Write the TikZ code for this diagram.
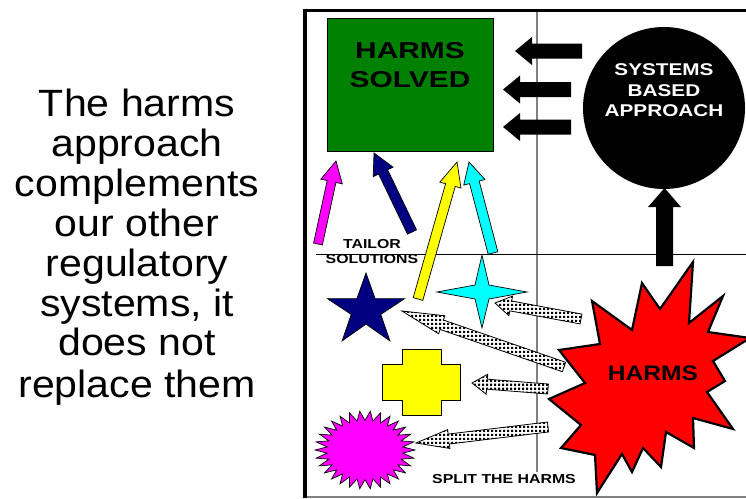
\documentclass[tikz,border=0pt]{standalone}
\usepackage{fontspec}
\setmainfont{Liberation Sans}
\newfontfamily\leftfont[FakeStretch=1.08]{Liberation Sans}
\newfontfamily\boldA[FakeStretch=1.3]{Liberation Sans}
\newfontfamily\boldB[FakeStretch=1.22]{Liberation Sans}
\newfontfamily\boldC[FakeStretch=1.17]{Liberation Sans}
\usetikzlibrary{calc,patterns.meta}
\definecolor{hgreen}{RGB}{0,128,0}
\definecolor{hnavy}{RGB}{0,0,128}
\definecolor{hmag}{RGB}{255,0,255}
\definecolor{hcyan}{RGB}{0,255,255}
\definecolor{hyellow}{RGB}{255,255,0}
\definecolor{hred}{RGB}{255,0,0}
\definecolor{hgray}{RGB}{128,128,128}
\tikzdeclarepattern{name=chk, type=uncolored,
  bottom left={(0pt,0pt)}, top right={(4.2pt,4.2pt)}, tile size={(4.2pt,4.2pt)},
  code={\pgfpathrectangle{\pgfpointorigin}{\pgfpoint{2.6pt}{2.6pt}}\pgfusepath{fill}}}
% block arrow: #1 tail, #2 tip, #3 shaft half width, #4 head half width, #5 head length, #6 style
\newcommand\blockarr[6]{%
  \coordinate (hb) at ($(#2)!#5!(#1)$);
  \draw[#6] ($(#1)!#3!90:(#2)$) -- ($(hb)!#3!90:(#2)$) -- ($(hb)!#4!90:(#2)$)
    -- (#2) -- ($(hb)!#4!-90:(#2)$) -- ($(hb)!#3!-90:(#2)$) -- ($(#1)!#3!-90:(#2)$) -- cycle;}
\tikzset{
  blackarr/.style={fill=black, draw=none},
  colarr/.style={draw=black, line width=0.7pt, fill=#1, line join=miter},
  patarr/.style={draw=black, line width=0.8pt, preaction={fill=white}, pattern=chk, pattern color=black},
  lefttext/.style={anchor=base, font=\leftfont\fontsize{38}{40}\selectfont, inner sep=0},
  shapeline/.style={draw=black, line width=0.7pt},
}
\begin{document}
\begin{tikzpicture}[x=1pt,y=-1pt]
\useasboundingbox (0,0) rectangle (746,498);
\clip (0,0) rectangle (746,498);
\fill[white] (0,0) rectangle (746,498);

% left text
\node[lefttext] (l1) at (137,116) {The harms};
\node[lefttext] (l2) at (137,156) {approach};
\node[lefttext] (l3) at (137,196) {complements};
\node[lefttext] (l4) at (137,236) {our other};
\node[lefttext] (l5) at (137,276) {regulatory};
\node[lefttext] (l6) at (137,316) {systems, it};
\node[lefttext] (l7) at (137,355) {does not};
\node[lefttext] (l8) at (137,397) {replace them};

% frame and dividers
\draw[hgray, line width=1.5pt] (537,10) -- (537,472);
\draw[black, line width=1pt] (316,254) -- (746,254);
\draw[hgray, line width=2pt] (303,497) -- (746,497);
\draw[black, line width=3pt] (303,10) -- (746,10);
\draw[black, line width=4pt] (305,8.5) -- (305,498);

% harms solved box
\node[draw=black, line width=0.8pt, fill=hgreen, minimum width=166, minimum height=133, inner sep=0] (solved) at (410,84.5) {};
\node[anchor=base, font=\boldA\bfseries\fontsize{23}{29}\selectfont, inner sep=0] (solvedt1) at (410,58) {HARMS};
\node[anchor=base, font=\boldA\bfseries\fontsize{23}{29}\selectfont, inner sep=0] (solvedt2) at (410,87) {SOLVED};

% systems based approach circle
\node[circle, fill=black, minimum size=162, inner sep=0] (sba) at (664,108) {};
\node[anchor=base, text=white, font=\boldB\bfseries\fontsize{17}{20}\selectfont, inner sep=0] (sbat1) at (664,75) {SYSTEMS};
\node[anchor=base, text=white, font=\boldB\bfseries\fontsize{17}{20}\selectfont, inner sep=0] (sbat2) at (664,96) {BASED};
\node[anchor=base, text=white, font=\boldB\bfseries\fontsize{17}{20}\selectfont, inner sep=0] (sbat3) at (664,116) {APPROACH};

% black arrows from circle to box
\coordinate (k1t) at (582,51);  \coordinate (k1h) at (515,51);
\coordinate (k2t) at (571,89.5); \coordinate (k2h) at (503,89.5);
\coordinate (k3t) at (571,127); \coordinate (k3h) at (503,127);
\blockarr{k1t}{k1h}{7.5pt}{14pt}{17pt}{blackarr}
\blockarr{k2t}{k2h}{7.5pt}{14pt}{17pt}{blackarr}
\blockarr{k3t}{k3h}{7.5pt}{14pt}{17pt}{blackarr}

% up arrow from harms to circle
\coordinate (upt) at (664.5,266); \coordinate (uph) at (664.5,188);
\blockarr{upt}{uph}{8.5pt}{16.5pt}{19pt}{blackarr}

% red harms burst
\filldraw[fill=hred, draw=black, line width=2.2pt, line join=miter, miter limit=20]
  (693,262) -- (689,323) -- (723,296) -- (708,332) -- (750,338) -- (713,361)
  -- (725,381) -- (707,392) -- (733,429) -- (693,418) -- (694,448) -- (666,432)
  -- (661,467) -- (643,448) -- (632,472) -- (622,454) -- (597,493) -- (595,455)
  -- (561,448) -- (581,425) -- (549,399) -- (585,383) -- (559,350) -- (600,344)
  -- (592,301) -- (632,330) -- (642,283) -- (660,309) -- cycle;
\node[anchor=base, font=\boldC\bfseries\fontsize{21}{25}\selectfont, inner sep=0] (harms) at (653,380) {HARMS};

% navy star
\filldraw[shapeline, fill=hnavy]
  (366,273) -- (375.1,298.6) -- (404.7,298.6) -- (380.8,314.4) -- (389.9,340.9)
  -- (366,324.1) -- (342.1,340.9) -- (351.2,314.4) -- (327.3,298.6) -- (356.9,298.6) -- cycle;

% cyan 4-point star
\filldraw[shapeline, fill=hcyan]
  (482,255) -- (489,285) -- (527,292) -- (489,299) -- (482,328)
  -- (475,299) -- (437,292) -- (475,285) -- cycle;

% yellow cross
\filldraw[shapeline, fill=hyellow]
  (402,349) -- (441,349) -- (441,364) -- (460,364) -- (460,400) -- (441,400)
  -- (441,415) -- (402,415) -- (402,400) -- (382,400) -- (382,364) -- (402,364) -- cycle;

% magenta burst
\filldraw[shapeline, fill=hmag] (415,450)
  \foreach \k [evaluate=\k as \rr using {1-0.24*mod(\k,2)}, evaluate=\k as \ang using {\k*6}] in {1,...,59} {
    -- ({365+50*\rr*cos(\ang)}, {450+39*\rr*sin(\ang)}) } -- cycle;

% coloured arrows: tailor solutions
\coordinate (mt) at (318,244); \coordinate (mh) at (336,161);
\coordinate (nt) at (412,232); \coordinate (nh) at (374,153);
\coordinate (yt) at (418,299); \coordinate (yh) at (457,162);
\coordinate (ct) at (493,253); \coordinate (ch) at (469,162);
\blockarr{mt}{mh}{4.5pt}{11pt}{21pt}{colarr=hmag}
\blockarr{nt}{nh}{5pt}{11pt}{21pt}{colarr=hnavy}
\blockarr{yt}{yh}{5pt}{11pt}{24pt}{colarr=hyellow}
\blockarr{ct}{ch}{5pt}{11pt}{21pt}{colarr=hcyan}

\node[anchor=base, font=\boldB\bfseries\fontsize{13}{15}\selectfont, inner sep=0] (tailor1) at (372,248) {TAILOR};
\node[anchor=base, font=\boldB\bfseries\fontsize{13}{15}\selectfont, inner sep=0] (tailor2) at (372,263) {SOLUTIONS};

% patterned arrows: split the harms
\coordinate (p1t) at (581,319); \coordinate (p1h) at (495,303);
\coordinate (p2t) at (564,367); \coordinate (p2h) at (402,311);
\coordinate (p3t) at (548,389); \coordinate (p3h) at (472,383);
\coordinate (p4t) at (548,427); \coordinate (p4h) at (416,443);
\blockarr{p1t}{p1h}{5pt}{10pt}{16pt}{patarr}
\blockarr{p2t}{p2h}{5pt}{9.5pt}{42pt}{patarr}
\blockarr{p3t}{p3h}{5pt}{10pt}{15pt}{patarr}
\blockarr{p4t}{p4h}{5pt}{9.5pt}{33pt}{patarr}

\node[anchor=base, font=\boldB\bfseries\fontsize{13}{15}\selectfont, inner sep=0] (split) at (504,483) {SPLIT THE HARMS};
\end{tikzpicture}
\end{document}
